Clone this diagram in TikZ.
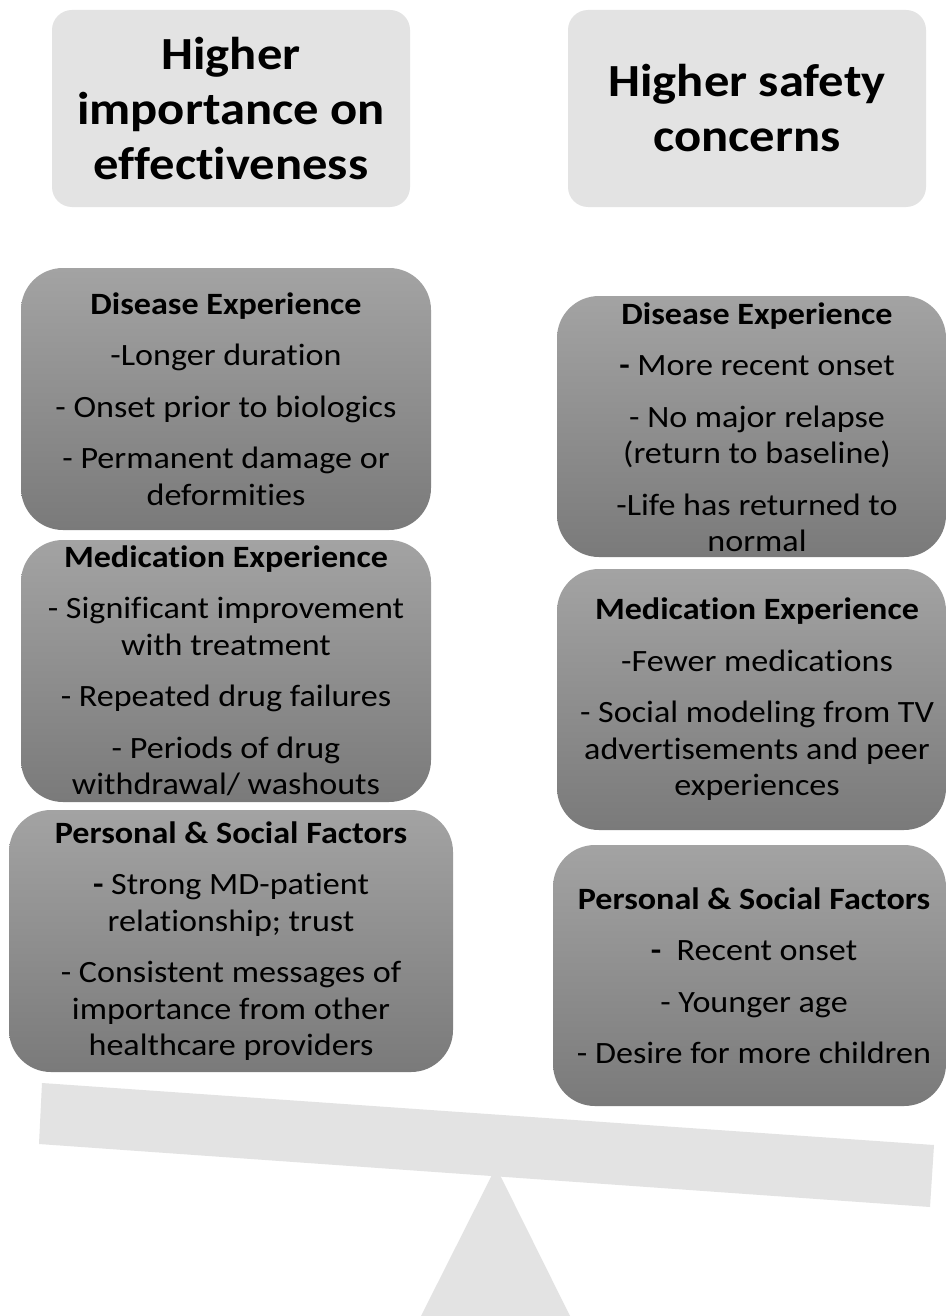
\documentclass[tikz,border=0pt]{standalone}
\usepackage{fontspec}
\setmainfont{Carlito}[FakeStretch=1.1,Ligatures=NoCommon]
\usetikzlibrary{shapes.misc}
\definecolor{lightbox}{HTML}{E3E3E3}
\definecolor{gtop}{HTML}{A3A3A3}
\definecolor{gbot}{HTML}{7A7A7A}
\tikzset{
  titlebox/.style={rectangle, rounded corners=20pt, fill=lightbox, draw=none, inner sep=0pt},
  darkbox/.style={rectangle, rounded corners=42pt, top color=gtop, bottom color=gbot, draw=none, inner sep=0pt},
  titletxt/.style={align=center, font=\fontsize{46}{55}\selectfont\bfseries, inner sep=0pt},
  bodytxt/.style={align=center, font=\fontsize{31}{36.5}\selectfont, inner sep=0pt},
  scaleshape/.style={fill=lightbox, draw=none}
}
\newcommand{\hd}[1]{\textbf{#1}}
\begin{document}
\begin{tikzpicture}[x=1pt,y=-1pt]
\useasboundingbox (0,0) rectangle (946,1316);
\fill[white] (0,0) rectangle (946,1316);

% title boxes
\node[titlebox, minimum width=358pt, minimum height=197pt] (t1) at (231,108.5) {};
\node[titletxt] (t1t) at (t1.center) {Higher\\importance on\\effectiveness};
\node[titlebox, minimum width=358pt, minimum height=197pt] (t2) at (747,108.5) {};
\node[titletxt] (t2t) at (t2.center) {Higher safety\\concerns};

% left column
\node[darkbox, minimum width=410pt, minimum height=262pt] (l1) at (226,399) {};
\node[bodytxt] (l1t) at (l1.center) {\hd{Disease Experience}\\[15pt]
-Longer duration\\[15pt]
- Onset prior to biologics\\[15pt]
- Permanent damage or\\deformities};

\node[darkbox, minimum width=410pt, minimum height=262pt] (l2) at (226,671) {};
\node[bodytxt] (l2t) at (l2.center) {\hd{Medication Experience}\\[15pt]
- Significant improvement\\with treatment\\[15pt]
- Repeated drug failures\\[15pt]
- Periods of drug\\withdrawal/ washouts};

\node[darkbox, minimum width=444pt, minimum height=262pt] (l3) at (231,941) {};
\node[bodytxt] (l3t) at (l3.center) {\hd{Personal \& Social Factors}\\[15pt]
\textbf{-} Strong MD-patient\\relationship; trust\\[15pt]
- Consistent messages of\\importance from other\\healthcare providers};

% right column
\node[darkbox, minimum width=389pt, minimum height=261pt] (r1) at (751.5,426.5) {};
\node[bodytxt] (r1t) at (757,427) {\hd{Disease Experience}\\[15pt]
\textbf{-} More recent onset\\[15pt]
- No major relapse\\(return to baseline)\\[15pt]
-Life has returned to\\normal};

\node[darkbox, minimum width=389pt, minimum height=261pt] (r2) at (751.5,699.5) {};
\node[bodytxt] (r2t) at (757,699.5) {\hd{Medication Experience}\\[15pt]
-Fewer medications\\[15pt]
- Social modeling from TV\\advertisements and peer\\experiences};

\node[darkbox, minimum width=393pt, minimum height=261pt] (r3) at (749.5,975.5) {};
\node[bodytxt] (r3t) at (754,975.5) {\hd{Personal \& Social Factors}\\[15pt]
\textbf{-}\ \ Recent onset\\[15pt]
- Younger age\\[15pt]
- Desire for more children};

% scale
\fill[scaleshape] (421,1316) -- (496,1167) -- (570,1316) -- cycle;
\fill[scaleshape] (42,1083) -- (934,1145) -- (930,1207) -- (39,1144) -- cycle;
\end{tikzpicture}
\end{document}
